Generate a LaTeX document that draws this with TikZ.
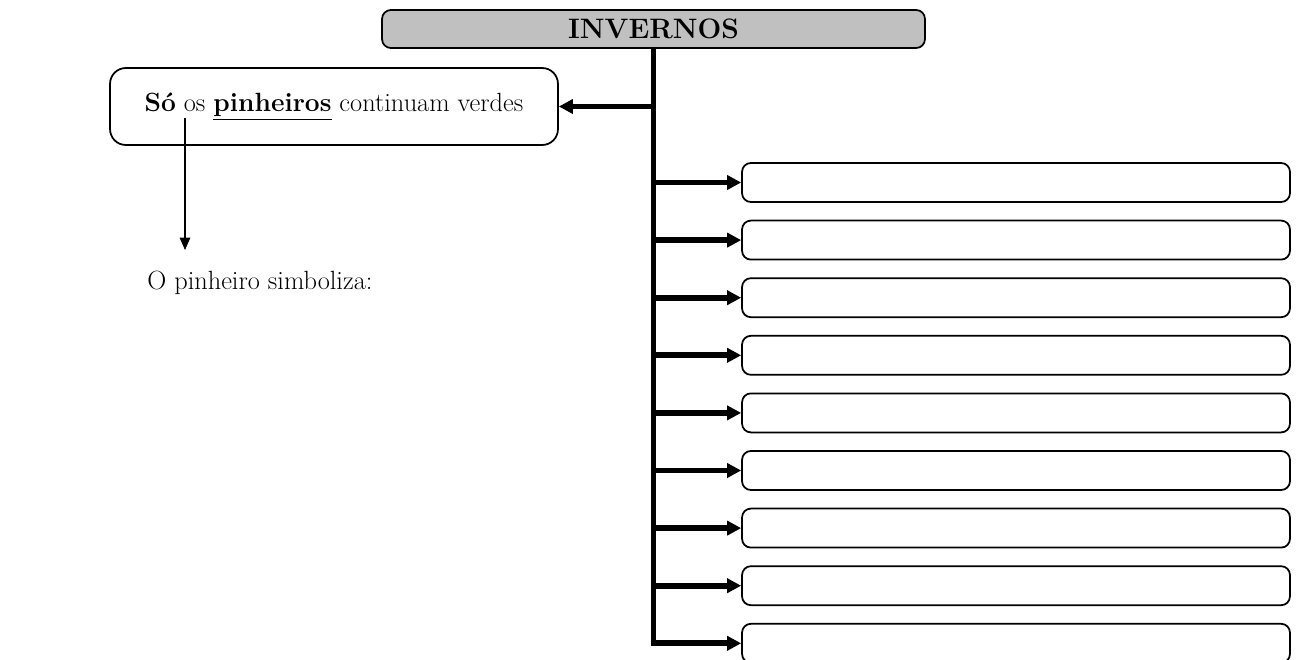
\documentclass[tikz,border=0pt]{standalone}
\usepackage{tikz}
\definecolor{boxgray}{RGB}{192,192,192}
\usetikzlibrary{arrows.meta,positioning,calc}
\tikzstyle{title}=[draw,fill=boxgray,rounded corners=5pt,line width=1pt,minimum width=10.86cm,minimum height=0.76cm,inner sep=0pt,font=\fontsize{16}{19}\selectfont\bfseries]
\tikzstyle{mainbox}=[draw,rounded corners=9pt,line width=1pt,minimum width=8.96cm,minimum height=1.54cm,inner sep=0pt]
\tikzstyle{answer}=[draw,rounded corners=5pt,line width=1pt,minimum width=10.96cm,minimum height=0.78cm,inner sep=0pt]
\tikzstyle{trunk}=[line width=3.2pt]
\tikzstyle{branch}=[line width=3.2pt,-{Triangle[length=8pt,width=8pt]}]

\begin{document}
\begin{tikzpicture}[x=0.02cm,y=-0.02cm,font=\fontsize{15}{18}\selectfont]
\useasboundingbox (0,0) rectangle (1297,659);
\node [title] (invernos) at (653.5,29) {INVERNOS};
\node [mainbox] (pinheiros) at (334,106.5) {\textbf{Só} os \underline{\textbf{pinheiros}} continuam verdes};
\node [anchor=west,inner sep=0pt] (simboliza) at (147,283) {O pinheiro simboliza:};
\coordinate (under) at (185,118);
\coordinate (tip) at (185,250);
\draw [line width=0.6pt,-{Triangle[length=7pt,width=6pt]}] (under) -- (tip);
\foreach \i in {1,...,9}
  \node [answer] (b\i) at (1016,{182.5+(\i-1)*57.6}) {};
\draw [trunk] (invernos.south) |- ([xshift=-5pt]b9.west);
\draw [branch] (invernos.south |- pinheiros.east) -- (pinheiros.east);
\foreach \i in {1,...,9}
  \draw [branch] (invernos.south |- b\i.west) -- (b\i.west);
\end{tikzpicture}
\end{document}
